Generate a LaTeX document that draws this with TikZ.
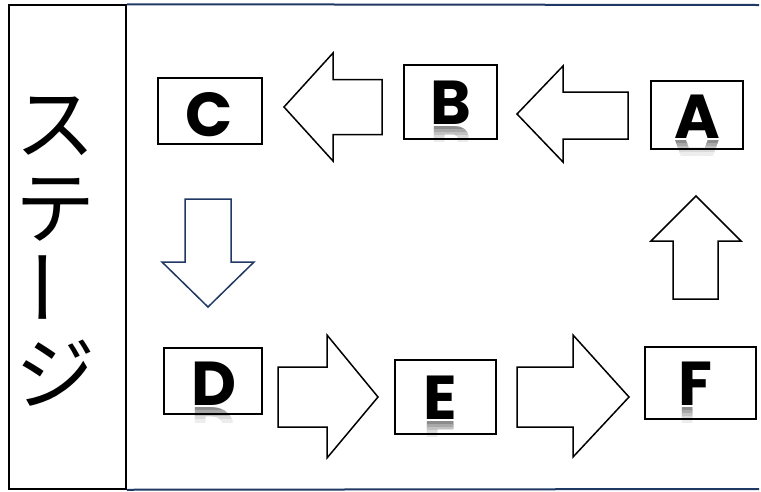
\documentclass[tikz,border=0pt]{standalone}
\usepackage{fontspec}
\newfontfamily\jpfont{Noto Sans CJK JP}
\newfontfamily\letfont{Poppins}
\definecolor{navy}{RGB}{32,56,100}
\tikzset{
  stagebox/.style={draw=black, line width=1.5pt, inner sep=0pt},
  box/.style={draw=black, line width=1.4pt, inner sep=0pt},
  blockarrow/.style={draw=black, line width=1.5pt, fill=white, line join=miter},
  letter/.style={font=\letfont\bfseries\fontsize{62}{62}\selectfont, inner sep=0pt, anchor=base},
  kana/.style={font=\jpfont\fontsize{80}{80}\selectfont, inner sep=0pt},
}
% faded mirror image of a letter below its baseline
\newcommand\mirrorletter[3]{%
  \foreach \k/\lev in {0/45,1/34,2/24,3/14,4/7}{%
    \begin{scope}[shift={(#1,#2)}]
      \clip (-40,{2+3*\k}) rectangle (40,{5+3*\k});
      \node[letter, text=black!\lev, yscale=-1] at (0,2) {#3};
    \end{scope}}}
\begin{document}
\begin{tikzpicture}[x=1pt, y=-1pt]
\useasboundingbox (0,0) rectangle (761,491);

% frame: stage column and top/bottom rules
\node[stagebox, minimum width=117pt, minimum height=484pt] (stage) at (67.5,247) {};
\coordinate (topR) at (759,5);
\coordinate (botR) at (759,489);
\draw[navy, line width=2pt] (stage.north east) -- (topR);
\draw[navy, line width=2pt] (stage.south east) -- (botR);

% vertical title
\node[kana] (k1) at (56,126) {ス};
\node[kana] (k2) at (56,210) {テ};
\node[kana, rotate=90] (k3) at (56,287) {ー};
\node[kana] (k4) at (56,373) {ジ};

% reflections
\mirrorletter{451}{124}{B}
\mirrorletter{697}{138}{A}
\mirrorletter{214}{405}{D}
\mirrorletter{440}{419}{E}
\mirrorletter{695}{405}{F}

% station boxes
\node[box, minimum width=104pt, minimum height=66pt] (bC) at (210,111) {};
\node[box, minimum width=93pt,  minimum height=74pt] (bB) at (450.5,102) {};
\node[box, minimum width=92pt,  minimum height=68pt] (bA) at (697,115) {};
\node[box, minimum width=98pt,  minimum height=66pt] (bD) at (213,381) {};
\node[box, minimum width=101pt, minimum height=74pt] (bE) at (445.5,397) {};
\node[box, minimum width=111pt, minimum height=72pt] (bF) at (700.5,383) {};

% letters
\node[letter] (tC) at (209,136) {C};
\node[letter] (tB) at (451,124) {B};
\node[letter] (tA) at (697,138) {A};
\node[letter] (tD) at (214,405) {D};
\node[letter] (tE) at (440,419) {E};
\node[letter] (tF) at (695,405) {F};

% block arrows
\draw[blockarrow] (284,107) -- (333,53) -- (333,79.5) -- (382,79.5) -- (382,134.5) -- (333,134.5) -- (333,161) -- cycle;
\draw[blockarrow] (517,114) -- (563,66) -- (563,92) -- (628,92) -- (628,139) -- (563,139) -- (563,162) -- cycle;
\draw[blockarrow, draw=navy] (185,199) -- (231,199) -- (231,262) -- (254,262) -- (208,307) -- (162,262) -- (185,262) -- cycle;
\draw[blockarrow] (696,196) -- (741,241) -- (718,241) -- (718,299) -- (673,299) -- (673,241) -- (651,241) -- cycle;
\draw[blockarrow] (278,367) -- (327,367) -- (327,335) -- (378,397) -- (327,458) -- (327,427) -- (278,427) -- cycle;
\draw[blockarrow] (517,367) -- (573,367) -- (573,335) -- (629,397) -- (573,457) -- (573,427) -- (517,427) -- cycle;
\end{tikzpicture}
\end{document}
